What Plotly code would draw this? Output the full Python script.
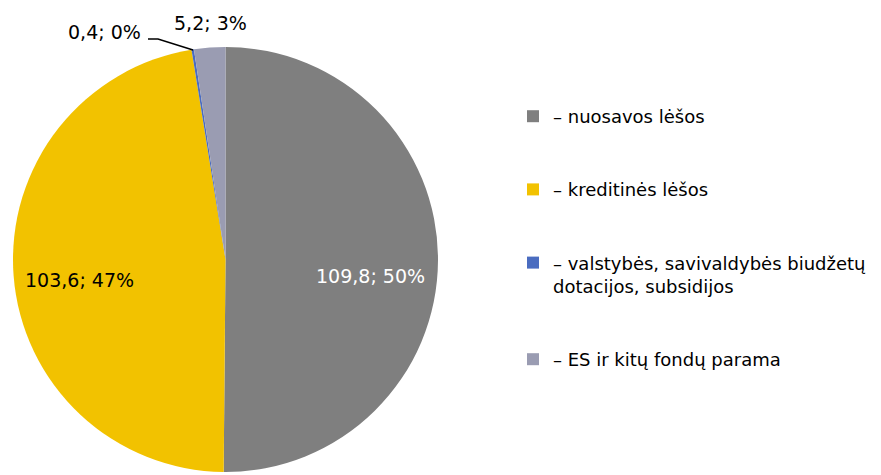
import plotly.graph_objects as go

labels = ["– nuosavos lėšos", "– kreditinės lėšos",
          "– valstybės, savivaldybės biudžetų<br>dotacijos, subsidijos",
          "– ES ir kitų fondų parama"]
values = [109.8, 103.6, 0.4, 5.2]
percents = [50, 47, 0, 3]
colors = ["#7F7F7F", "#F2C200", "#4A6CC0", "#9A9CB2"]
label_colors = ["white", "black", "black", "black"]

# legend labels padded with blank lines to reproduce the spacing
pad = ["<br> <br> ", "<br> <br> ", "<br> <br> ", ""]
legend_labels = [l + p for l, p in zip(labels, pad)]

def fmt(v, p):
    return f"{v:.1f}".replace(".", ",") + f"; {p}%"

FONT = "DejaVu Sans"
FS = 19
W, H = 881, 475

fig = go.Figure(go.Pie(
    labels=legend_labels,
    values=values,
    sort=False,
    direction="clockwise",
    rotation=0,
    marker=dict(colors=colors, line=dict(width=0)),
    textinfo="none",
    hoverinfo="value+percent",
    domain=dict(x=[13 / W, 438 / W], y=[3 / H, 428 / H]),
))

# data labels (text built from the data arrays)
label_pos = [(370, 276), (79, 280), (104, 32), (210, 23)]
for v, p, c, (px, py) in zip(values, percents, label_colors, label_pos):
    fig.add_annotation(x=px / W, y=1 - py / H, xref="paper", yref="paper",
                       text=fmt(v, p), showarrow=False,
                       xanchor="center", yanchor="middle",
                       font=dict(size=FS, family=FONT, color=c))

# leader line for the tiny slice
fig.add_shape(type="path", xref="paper", yref="paper",
              path=f"M {148/W} {1-39/H} L {158/W} {1-39/H} L {193/W} {1-50/H}",
              line=dict(color="black", width=1.5))

fig.update_layout(
    width=W, height=H,
    margin=dict(l=0, r=0, t=0, b=0),
    paper_bgcolor="white",
    plot_bgcolor="white",
    font=dict(family=FONT, size=FS, color="black"),
    showlegend=True,
    legend=dict(x=513 / W, y=1 - 98 / H, xanchor="left", yanchor="top",
                font=dict(size=18, family=FONT, color="black"),
                valign="top", itemwidth=30, traceorder="normal",
                bgcolor="rgba(0,0,0,0)"),
)

fig.write_html("out.html", config={"displayModeBar": False},
               post_script="document.body.style.margin='0';document.body.style.overflow='hidden';")
